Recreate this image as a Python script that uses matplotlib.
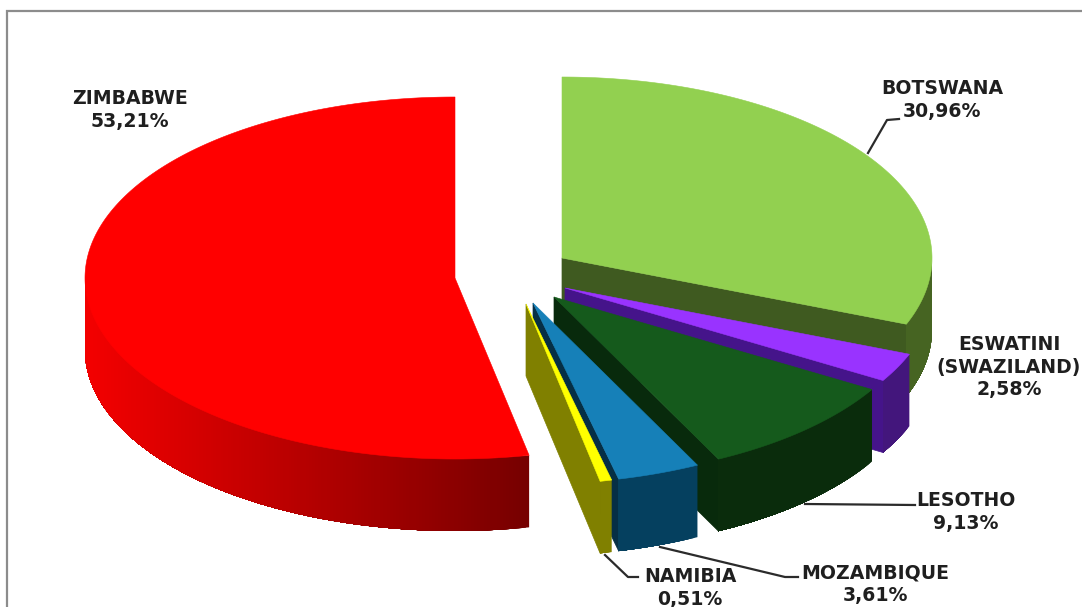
import numpy as np
import matplotlib
matplotlib.use("Agg")
import matplotlib.pyplot as plt
from matplotlib.colors import to_rgb

# clockwise from 12 o'clock
countries = ['BOTSWANA', 'ESWATINI\n(SWAZILAND)', 'LESOTHO', 'MOZAMBIQUE', 'NAMIBIA', 'ZIMBABWE']
shares = [30.96, 2.58, 9.13, 3.61, 0.51, 53.21]

top_colors = ['#92d050', '#9933ff', '#155a1c', '#1680b8', '#ffff00', '#ff0000']
cut_colors = ['#3f5a20', '#45148a', '#082a0c', '#062f45', '#808000', '#800000']
wall_right = ['#466422', '#43167c', '#0a2c0c', '#05405f', '#808000', '#760000']
wall_left = ['#466422', '#43167c', '#0a2c0c', '#05405f', '#808000', '#f40000']

# where each exploded slice has its tip, in pixels of the picture
tips = [(562, 258), (565, 288), (554, 297), (533, 303), (526, 304), (455, 278)]
rx, ry = 370, 181
depth = 72

label_xy = [(942, 100), (1009, 367), (966, 512), (875, 584), (690, 588), (130, 110)]
leaders = [
    [(868, 153), (887, 120), (899, 119)],
    [(805, 504), (915, 505)],
    [(660, 547), (785, 577), (798, 577)],
    [(605, 555), (628, 577), (638, 577)],
]


def rim(tip, a0, a1, n=200):
    # points on the ellipse, angle in degrees clockwise from the top
    t = np.radians(np.linspace(a0, a1, n))
    return tip[0] + rx * np.sin(t), tip[1] - ry * np.cos(t)


fig = plt.figure(figsize=(10.82, 6.07), dpi=100)
ax = fig.add_axes([0, 0, 1, 1])
ax.set_xlim(0, 1082)
ax.set_ylim(607, 0)
ax.axis('off')

# frame, only left and top are inside the picture
ax.plot([6.5, 6.5, 1082], [607, 10.5, 10.5], color='#8c8c8c', lw=1.6, solid_joinstyle='miter')

ends = np.cumsum(shares) / np.sum(shares) * 360
starts = np.concatenate([[0], ends[:-1]])

for i in range(len(shares)):
    tip = tips[i]
    a0, a1 = starts[i], ends[i]

    # cut face below the trailing edge
    if 90 < a1 < 180:
        x, y = rim(tip, a1, a1, 1)
        ax.fill([tip[0], x[0], x[0], tip[0]], [tip[1], y[0], y[0] + depth, tip[1] + depth],
                color=cut_colors[i], lw=0.5, zorder=i * 3)

    # outer wall, only the part turned to the viewer
    v0, v1 = max(a0, 90), min(a1, 270)
    if v1 > v0:
        steps = max(int(v1 - v0) * 2, 8)
        edges = np.linspace(v0, v1, steps + 1)
        c_l, c_r = np.array(to_rgb(wall_left[i])), np.array(to_rgb(wall_right[i]))
        xs, _ = rim(tip, v0, v1)
        # each strip runs to the far end and the next one paints over it, so no seams show
        for e0 in edges[:-1]:
            x, y = rim(tip, e0, v1, 80)
            xm = rim(tip, e0, e0 + (v1 - v0) / steps, 4)[0].mean()
            f = (xm - xs.min()) / (xs.max() - xs.min())
            col = c_l + (c_r - c_l) * f
            ax.fill(np.r_[x, x[::-1]], np.r_[y, y[::-1] + depth], color=col, lw=0, zorder=i * 3 + 1)

    # top
    x, y = rim(tip, a0, a1, 300)
    ax.fill(np.r_[tip[0], x], np.r_[tip[1], y], color=top_colors[i], lw=0.4, zorder=i * 3 + 2)

for pts in leaders:
    px, py = zip(*pts)
    ax.plot(px, py, color='#2b2b2b', lw=1.6, zorder=30)

for name, val, (lx, ly) in zip(countries, shares, label_xy):
    txt = name + '\n' + f'{val:.2f}%'.replace('.', ',')
    ax.text(lx, ly, txt, ha='center', va='center', fontsize=13.6, fontweight='bold',
            family='DejaVu Sans', color='#1f1f1f', linespacing=1.25, zorder=31)

fig.savefig('out.png', dpi=100)
